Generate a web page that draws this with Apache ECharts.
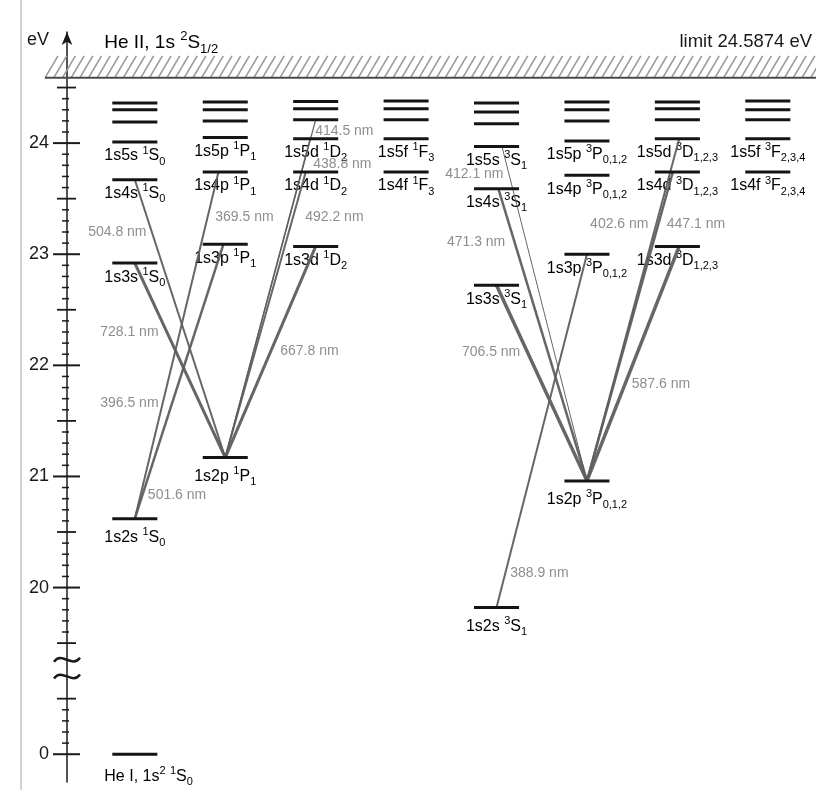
<!DOCTYPE html>
<html>
<head>
<meta charset="utf-8">
<script src="https://cdn.jsdelivr.net/npm/echarts@6/dist/echarts.min.js"></script>
<style>
html, body { margin: 0; padding: 0; background: #fff; }
#chart { width: 816px; height: 790px; }
</style>
</head>
<body>
<div id="chart"></div>
<script>
// Term diagram of neutral helium: singlet (para) and triplet (ortho) systems.
// Energies in eV above the 1s² ground state.

const columnKeys = ['1S', '1P', '1D', '1F', '3S', '3P', '3D', '3F'];

const levels1S = [20.62, 22.92, 23.67, 24.01, 24.19, 24.30, 24.36];
const levels1P = [21.17, 23.09, 23.74, 24.05, 24.20, 24.30, 24.37];
const levels1D = [23.07, 23.74, 24.04, 24.21, 24.31, 24.375];
const levels1F = [23.74, 24.04, 24.21, 24.31, 24.38];
const levels3S = [19.82, 22.72, 23.59, 23.97, 24.175, 24.28, 24.36];
const levels3P = [20.96, 23.00, 23.71, 24.02, 24.20, 24.30, 24.37];
const levels3D = [23.07, 23.74, 24.04, 24.21, 24.31, 24.37];
const levels3F = [23.74, 24.04, 24.21, 24.30, 24.38];

const groundE = 0;
const limitE = 24.5874;

const configs1S = ['1s2s', '1s3s', '1s4s', '1s5s'];
const configs1P = ['1s2p', '1s3p', '1s4p', '1s5p'];
const configs1D = ['1s3d', '1s4d', '1s5d'];
const configs1F = ['1s4f', '1s5f'];
const configs3S = ['1s2s', '1s3s', '1s4s', '1s5s'];
const configs3P = ['1s2p', '1s3p', '1s4p', '1s5p'];
const configs3D = ['1s3d', '1s4d', '1s5d'];
const configs3F = ['1s4f', '1s5f'];

// [multiplicity, L, J]
const terms = {
  '1S': ['1', 'S', '0'], '1P': ['1', 'P', '1'], '1D': ['1', 'D', '2'], '1F': ['1', 'F', '3'],
  '3S': ['3', 'S', '1'], '3P': ['3', 'P', '0,1,2'], '3D': ['3', 'D', '1,2,3'], '3F': ['3', 'F', '2,3,4']
};

// [lower column, lower index, upper column, upper index, wavelength]
const transitions = [
  ['1S', 0, '1P', 1, '501.6 nm'],
  ['1S', 0, '1P', 2, '396.5 nm'],
  ['1P', 0, '1S', 1, '728.1 nm'],
  ['1P', 0, '1S', 2, '504.8 nm'],
  ['1P', 0, '1D', 0, '667.8 nm'],
  ['1P', 0, '1D', 1, '492.2 nm'],
  ['1P', 0, '1D', 2, '438.8 nm'],
  ['1P', 0, '1D', 3, '414.5 nm'],
  ['3S', 0, '3P', 1, '388.9 nm'],
  ['3P', 0, '3S', 1, '706.5 nm'],
  ['3P', 0, '3S', 2, '471.3 nm'],
  ['3P', 0, '3S', 3, '412.1 nm'],
  ['3P', 0, '3D', 0, '587.6 nm'],
  ['3P', 0, '3D', 1, '447.1 nm'],
  ['3P', 0, '3D', 2, '402.6 nm']
];
const extraWavelengths = ['369.5 nm'];

const axisTickValues = [0, 20, 21, 22, 23, 24];
const axisTickLabels = ['0', '20', '21', '22', '23', '24'];
const halfTickValues = [0.5, 19.5, 20.5, 21.5, 22.5, 23.5, 24.5];

// ---------- layout & style ----------
const FONT = '"Liberation Sans", Arial, Helvetica, sans-serif';
const INK = '#1a1a1a';
const LINE_GREY = '#5e5e5e';
const WL_GREY = '#8e8e8e';
const AXIS_SHIFT = 18.5;      // the axis is broken between 0.5 and 19.5 eV
const AXIS_COL = -0.75;       // x position of the energy axis (column units)
const LEVEL_HALF = 0.249;     // half length of a level bar (column units)

const levelsByKey = { '1S': levels1S, '1P': levels1P, '1D': levels1D, '1F': levels1F,
                      '3S': levels3S, '3P': levels3P, '3D': levels3D, '3F': levels3F };
const configsByKey = { '1S': configs1S, '1P': configs1P, '1D': configs1D, '1F': configs1F,
                       '3S': configs3S, '3P': configs3P, '3D': configs3D, '3F': configs3F };
const colOf = k => columnKeys.indexOf(k);
const disp = e => (e >= 10 ? e - AXIS_SHIFT : e);

// end-point shifts of transition lines on their levels, [lower, upper]
const lineEnds = {
  '501.6 nm': [0, -0.02], '396.5 nm': [0, -0.075], '728.1 nm': [0, 0], '504.8 nm': [0, 0],
  '667.8 nm': [0, 0], '492.2 nm': [0, -0.11], '438.8 nm': [0, -0.06], '414.5 nm': [0, 0],
  '388.9 nm': [0, 0], '706.5 nm': [0, 0], '471.3 nm': [0, 0.02], '412.1 nm': [0, 0.06],
  '587.6 nm': [0, 0.02], '447.1 nm': [0, -0.05], '402.6 nm': [0, 0.02]
};
const lineWidths = {
  '501.6 nm': 2.5, '396.5 nm': 2, '728.1 nm': 3, '504.8 nm': 2, '667.8 nm': 3,
  '492.2 nm': 2, '438.8 nm': 1.5, '414.5 nm': 1.2, '388.9 nm': 2, '706.5 nm': 3.5,
  '471.3 nm': 2.5, '412.1 nm': 1, '587.6 nm': 3.5, '447.1 nm': 2.5, '402.6 nm': 2
};
// anchor (left, middle) of each wavelength caption, in [column, eV]
const captionAt = {
  '504.8 nm': [-0.516, 23.20], '728.1 nm': [-0.383, 22.30], '396.5 nm': [-0.383, 21.66],
  '501.6 nm': [0.144, 20.83], '369.5 nm': [0.889, 23.33], '667.8 nm': [1.608, 22.13],
  '492.2 nm': [1.884, 23.33], '438.8 nm': [1.972, 23.81], '414.5 nm': [1.994, 24.11],
  '412.1 nm': [3.432, 23.72], '471.3 nm': [3.451, 23.11], '706.5 nm': [3.617, 22.12],
  '402.6 nm': [5.035, 23.27], '447.1 nm': [5.883, 23.27], '587.6 nm': [5.496, 21.83],
  '388.9 nm': [4.151, 20.13]
};

const richLevel = {
  n:   { fontFamily: FONT, fontSize: 16, color: INK, lineHeight: 22 },
  sup: { fontFamily: FONT, fontSize: 11, color: INK, lineHeight: 14, verticalAlign: 'top' },
  sub: { fontFamily: FONT, fontSize: 11, color: INK, lineHeight: 11, verticalAlign: 'bottom' }
};
const richBig = {
  n:   { fontFamily: FONT, fontSize: 19, color: INK, lineHeight: 26 },
  sup: { fontFamily: FONT, fontSize: 13, color: INK, lineHeight: 16, verticalAlign: 'top' },
  sub: { fontFamily: FONT, fontSize: 13, color: INK, lineHeight: 13, verticalAlign: 'bottom' }
};
const termMarkup = (cfg, t) => `{n|${cfg} }{sup|${t[0]}}{n|${t[1]}}{sub|${t[2]}}`;

// ---------- series data ----------
const levelData = [[colOf('1S'), disp(groundE)]];
columnKeys.forEach(k => levelsByKey[k].forEach(e => levelData.push([colOf(k), disp(e)])));

const levelLabelData = [];
const levelLabelText = [];
const levelLabelDy = [];
columnKeys.forEach(k => {
  configsByKey[k].forEach((cfg, i) => {
    levelLabelData.push([colOf(k), disp(levelsByKey[k][i])]);
    levelLabelText.push(termMarkup(cfg, terms[k]));
    levelLabelDy.push(cfg === '1s2s' || cfg === '1s2p' ? 19 : 14);
  });
});

const lineData = transitions.map(t => {
  const ends = lineEnds[t[4]];
  return [colOf(t[0]) + ends[0], disp(levelsByKey[t[0]][t[1]]),
          colOf(t[2]) + ends[1], disp(levelsByKey[t[2]][t[3]])];
});

const captionText = transitions.map(t => t[4]).concat(extraWavelengths);
const captionData = captionText.map(w => [captionAt[w][0], disp(captionAt[w][1])]);

const minorTickValues = [];
for (let k = 1; k < 5; k++) minorTickValues.push(k / 10);
for (let k = 196; k <= 244; k++) if (k % 5 !== 0) minorTickValues.push(k / 10);

const tickData = []
  .concat(axisTickValues.map(v => [AXIS_COL, disp(v), 0]))
  .concat(halfTickValues.map(v => [AXIS_COL, disp(v), 1]))
  .concat(minorTickValues.map(v => [AXIS_COL, disp(v), 2]));
const tickSpan = [[-14, 13, 2], [-10, 9, 1.8], [-5, 2, 1.5]];

const breakMarks = [[AXIS_COL, 0.70], [AXIS_COL, 0.85]];

// ---------- chart ----------
const chart = echarts.init(document.getElementById('chart'), null, { renderer: 'canvas' });

const option = {
  animation: false,
  backgroundColor: '#ffffff',
  grid: { left: 67, right: 0, top: 32, bottom: 8, containLabel: false, outerBoundsMode: 'none' },
  xAxis: { type: 'value', min: -0.75, max: 7.533, show: false },
  yAxis: {
    type: 'value', min: -0.25, max: 6.5, position: 'left',
    axisLine: { show: true, onZero: false, symbol: ['none', 'arrow'], symbolSize: [8, 13],
                lineStyle: { color: INK, width: 1.5 } },
    axisTick: { show: false }, axisLabel: { show: false }, splitLine: { show: false },
    name: 'eV', nameLocation: 'end', nameGap: -8,
    nameTextStyle: { fontFamily: FONT, fontSize: 18, color: INK, align: 'right',
                     verticalAlign: 'middle', padding: [0, 18, 0, 0] }
  },
  graphic: [{
    type: 'line', silent: true, z: 0,
    shape: { x1: 21, y1: 0, x2: 21, y2: 790 },
    style: { stroke: '#c4c4c4', lineWidth: 1.5 }
  }],
  series: [
    { // ionisation limit with hatched continuum
      type: 'custom', name: 'limit', clip: false, silent: true, z: 1,
      data: [[AXIS_COL, disp(limitE)]],
      renderItem(params, api) {
        const p = api.coord([api.value(0), api.value(1)]);
        const yB = p[1], yT = yB - 22, xL = 45, xR = api.getWidth();
        const kids = [];
        for (let x = xL; x < xR; x += 8.7) {
          kids.push({ type: 'line', shape: { x1: x, y1: yB, x2: x + 13, y2: yT },
                      style: { stroke: '#9a9a9a', lineWidth: 1.6 } });
        }
        kids.push({ type: 'line', shape: { x1: xL, y1: yB, x2: xR, y2: yB },
                    style: { stroke: '#4a4a4a', lineWidth: 2 } });
        return { type: 'group', children: kids };
      }
    },
    { // limit captions
      type: 'custom', name: 'limit captions', clip: false, silent: true, z: 2,
      data: [[-0.339, disp(24.90)], [7.49, disp(24.91)]],
      renderItem(params, api) {
        const p = api.coord([api.value(0), api.value(1)]);
        if (params.dataIndex === 0) {
          return { type: 'text', x: p[0], y: p[1],
                   style: { text: '{n|He II, 1s }{sup|2}{n|S}{sub|1/2}', rich: richBig,
                            align: 'left', verticalAlign: 'middle' } };
        }
        return { type: 'text', x: p[0], y: p[1],
                 style: { text: 'limit ' + limitE + ' eV', fontFamily: FONT, fontSize: 18.5,
                          fill: INK, align: 'right', verticalAlign: 'middle' } };
      }
    },
    { // axis ticks
      type: 'custom', name: 'ticks', clip: false, silent: true, z: 2,
      data: tickData,
      renderItem(params, api) {
        const p = api.coord([api.value(0), api.value(1)]);
        const s = tickSpan[api.value(2)];
        return { type: 'line', shape: { x1: p[0] + s[0], y1: p[1], x2: p[0] + s[1], y2: p[1] },
                 style: { stroke: INK, lineWidth: s[2] } };
      }
    },
    { // axis numbers
      type: 'custom', name: 'tick labels', clip: false, silent: true, z: 2,
      data: axisTickValues.map(v => [AXIS_COL, disp(v)]),
      renderItem(params, api) {
        const p = api.coord([api.value(0), api.value(1)]);
        return { type: 'text', x: p[0] - 18, y: p[1],
                 style: { text: axisTickLabels[params.dataIndex], fontFamily: FONT, fontSize: 18,
                          fill: INK, align: 'right', verticalAlign: 'middle' } };
      }
    },
    { // axis break
      type: 'custom', name: 'axis break', clip: false, silent: true, z: 3,
      data: breakMarks,
      renderItem(params, api) {
        const p = api.coord([api.value(0), api.value(1)]);
        return { type: 'bezierCurve',
                 shape: { x1: p[0] - 13, y1: p[1] + 2, cpx1: p[0] - 5, cpy1: p[1] - 9,
                          cpx2: p[0] + 5, cpy2: p[1] + 9, x2: p[0] + 13, y2: p[1] - 2 },
                 style: { stroke: INK, lineWidth: 2.5, fill: null } };
      }
    },
    { // level names
      type: 'custom', name: 'level labels', clip: false, silent: true, z: 2,
      data: levelLabelData,
      renderItem(params, api) {
        const p = api.coord([api.value(0), api.value(1)]);
        return { type: 'text', x: p[0], y: p[1] + levelLabelDy[params.dataIndex],
                 style: { text: levelLabelText[params.dataIndex], rich: richLevel,
                          align: 'center', verticalAlign: 'middle' } };
      }
    },
    { // ground state name
      type: 'custom', name: 'ground label', clip: false, silent: true, z: 2,
      data: [[colOf('1S') - LEVEL_HALF, disp(groundE)]],
      renderItem(params, api) {
        const p = api.coord([api.value(0), api.value(1)]);
        return { type: 'text', x: p[0] - 8, y: p[1] + 22,
                 style: { text: '{n|He I, 1s}{sup|2}{n| }{sup|1}{n|S}{sub|0}', rich: richLevel,
                          align: 'left', verticalAlign: 'middle' } };
      }
    },
    { // wavelength captions
      type: 'custom', name: 'wavelengths', clip: false, silent: true, z: 2,
      data: captionData,
      renderItem(params, api) {
        const p = api.coord([api.value(0), api.value(1)]);
        return { type: 'text', x: p[0], y: p[1],
                 style: { text: captionText[params.dataIndex], fontFamily: FONT, fontSize: 14,
                          fill: WL_GREY, align: 'left', verticalAlign: 'middle' } };
      }
    },
    { // radiative transitions
      type: 'custom', name: 'transitions', clip: false, silent: true, z: 3,
      data: lineData,
      renderItem(params, api) {
        const a = api.coord([api.value(0), api.value(1)]);
        const b = api.coord([api.value(2), api.value(3)]);
        return { type: 'line', shape: { x1: a[0], y1: a[1], x2: b[0], y2: b[1] },
                 style: { stroke: LINE_GREY, lineWidth: lineWidths[transitions[params.dataIndex][4]],
                          opacity: 0.95 } };
      }
    },
    { // energy levels
      type: 'custom', name: 'levels', clip: false, silent: true, z: 4,
      data: levelData,
      renderItem(params, api) {
        const a = api.coord([api.value(0) - LEVEL_HALF, api.value(1)]);
        const b = api.coord([api.value(0) + LEVEL_HALF, api.value(1)]);
        return { type: 'line', shape: { x1: a[0], y1: a[1], x2: b[0], y2: b[1] },
                 style: { stroke: '#141414', lineWidth: 3 } };
      }
    }
  ]
};

chart.setOption(option);
</script>
</body>
</html>
